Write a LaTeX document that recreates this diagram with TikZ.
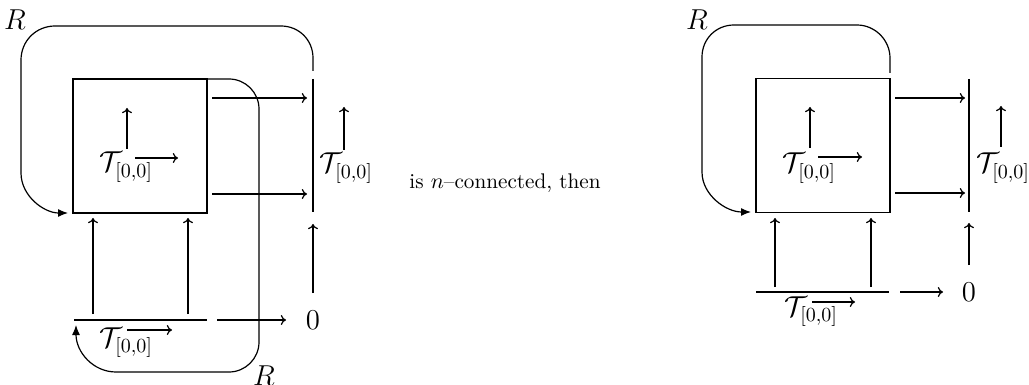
\documentclass[tikz,border=0pt]{standalone}
\usetikzlibrary{arrows.meta}
\begin{document}
\begin{tikzpicture}[x=0.5pt,y=-0.5pt,line width=0.6pt,
  ar/.style={-{To[length=2.6pt,width=5pt]}},
  rloop/.style={-{Latex[length=5pt,width=4pt]}},
  lab/.style={font=\fontsize{14}{16}\selectfont,inner sep=0pt},
  box/.style={draw,inner sep=0pt,minimum width=67pt,minimum height=67pt}]
\useasboundingbox (0,0) rectangle (1029,385);

% ---------------- left diagram ----------------
\node[box] (B1) at (140,146) {};
\coordinate (V1t) at (313,79); \coordinate (V1b) at (313,212);
\draw (V1t) -- (V1b);
\coordinate (p1s) at (212,98);  \coordinate (p1e) at (307,98);
\coordinate (q1s) at (212,194); \coordinate (q1e) at (307,194);
\draw[ar] (p1s) -- (p1e);
\draw[ar] (q1s) -- (q1e);
% inside label
\node[lab,anchor=base west] (T1) at (99,172) {$\mathcal{T}_{[0,0]}$};
\coordinate (T1u0) at (127,149); \coordinate (T1u1) at (127,108);
\coordinate (T1r0) at (135,158); \coordinate (T1r1) at (178,158);
\draw[ar] (T1u0) -- (T1u1);
\draw[ar] (T1r0) -- (T1r1);
% right label
\node[lab,anchor=base west] (T1b) at (319,173) {$\mathcal{T}_{[0,0]}$};
\coordinate (T1bu0) at (344,150); \coordinate (T1bu1) at (344,107);
\draw[ar] (T1bu0) -- (T1bu1);
% bottom line and label
\coordinate (L1a) at (74,320); \coordinate (L1b) at (207,320);
\draw (L1a) -- (L1b);
\node[lab,anchor=base west] (T1c) at (99,347) {$\mathcal{T}_{[0,0]}$};
\coordinate (T1cr0) at (127,330); \coordinate (T1cr1) at (172,330);
\draw[ar] (T1cr0) -- (T1cr1);
% vertical arrows into box
\coordinate (u1a) at (93,314);  \coordinate (u1b) at (93,218);
\coordinate (u2a) at (188,314); \coordinate (u2b) at (188,218);
\draw[ar] (u1a) -- (u1b);
\draw[ar] (u2a) -- (u2b);
% zero
\node[lab] (Z1) at (313,320) {$0$};
\coordinate (z1a) at (217,320); \coordinate (z1b) at (286,320);
\draw[ar] (z1a) -- (z1b);
\coordinate (z1u0) at (313,293); \coordinate (z1u1) at (313,224);
\draw[ar] (z1u0) -- (z1u1);
% loops
\coordinate (R1s) at (313,71); \coordinate (R1e) at (68,213);
\draw[rloop] (R1s) -- (313,58) .. controls (313,40) and (299,26) .. (281,26)
  -- (55,26) .. controls (36,26) and (21,41) .. (21,60)
  -- (21,173) .. controls (21,196) and (44,213) .. (R1e);
\node[lab] (R1) at (15,20) {$R$};
\coordinate (R2s) at (207,79); \coordinate (R2e) at (76,325);
\draw[rloop] (R2s) -- (229,79) .. controls (245.5,79) and (259,92.5) .. (259,109)
  -- (259,342) .. controls (259,358.5) and (245.5,372) .. (229,372)
  -- (116,372) .. controls (93,372) and (76,352) .. (R2e);
\node[lab,anchor=base] (R2) at (264,385) {$R$};

% ---------------- middle text ----------------
\node[font=\fontsize{10.6}{12}\selectfont,inner sep=0pt] (mid) at (505,183) {is $n$--connected, then};

% ---------------- right diagram ----------------
\node[box] (B2) at (823,145.5) {};
\coordinate (V2t) at (969,79); \coordinate (V2b) at (969,212);
\draw (V2t) -- (V2b);
\coordinate (p2s) at (895,98);  \coordinate (p2e) at (965,98);
\coordinate (q2s) at (895,193); \coordinate (q2e) at (965,193);
\draw[ar] (p2s) -- (p2e);
\draw[ar] (q2s) -- (q2e);
\node[lab,anchor=base west] (T2) at (782,173) {$\mathcal{T}_{[0,0]}$};
\coordinate (T2u0) at (810,148); \coordinate (T2u1) at (810,107);
\coordinate (T2r0) at (818,157); \coordinate (T2r1) at (862,157);
\draw[ar] (T2u0) -- (T2u1);
\draw[ar] (T2r0) -- (T2r1);
\node[lab,anchor=base west] (T2b) at (976,173) {$\mathcal{T}_{[0,0]}$};
\coordinate (T2bu0) at (1001,147); \coordinate (T2bu1) at (1001,106);
\draw[ar] (T2bu0) -- (T2bu1);
\coordinate (L2a) at (756,292); \coordinate (L2b) at (889,292);
\draw (L2a) -- (L2b);
\node[lab,anchor=base west] (T2c) at (784,316) {$\mathcal{T}_{[0,0]}$};
\coordinate (T2cr0) at (812,302); \coordinate (T2cr1) at (855,302);
\draw[ar] (T2cr0) -- (T2cr1);
\coordinate (v1a) at (775,287); \coordinate (v1b) at (775,218);
\coordinate (v2a) at (871,287); \coordinate (v2b) at (871,218);
\draw[ar] (v1a) -- (v1b);
\draw[ar] (v2a) -- (v2b);
\node[lab] (Z2) at (969,292) {$0$};
\coordinate (z2a) at (900,292); \coordinate (z2b) at (943,292);
\draw[ar] (z2a) -- (z2b);
\coordinate (z2u0) at (969,265); \coordinate (z2u1) at (969,223);
\draw[ar] (z2u0) -- (z2u1);
\coordinate (R3s) at (890,73); \coordinate (R3e) at (751,212);
\draw[rloop] (R3s) -- (890,58) .. controls (890,40) and (875,25) .. (857,25)
  -- (734,25) .. controls (716,25) and (702,39) .. (702,57)
  -- (702,172) .. controls (702,195) and (726,212) .. (R3e);
\node[lab] (R3) at (697,20) {$R$};
\end{tikzpicture}
\end{document}
